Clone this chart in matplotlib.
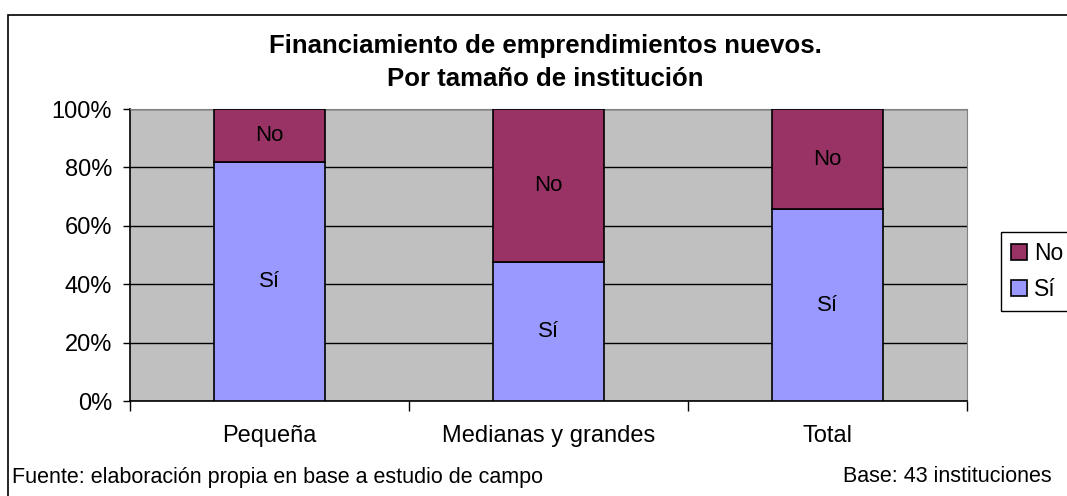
import numpy as np
import matplotlib
matplotlib.use('Agg')
import matplotlib.pyplot as plt
from matplotlib.patches import Rectangle

# datos (porcentajes)
categorias = ['Pequeña', 'Medianas y grandes', 'Total']
si = [81.8, 47.6, 65.7]
no = [100 - v for v in si]
yticks = [0, 20, 40, 60, 80, 100]

plt.rcParams['font.family'] = ['Liberation Sans', 'DejaVu Sans']

fig = plt.figure(figsize=(10.67, 4.96), dpi=100)
ax = fig.add_axes([130 / 1067, 1 - 401 / 496, (967 - 130) / 1067, (401 - 109) / 496])

x = np.arange(len(categorias))
ancho = 0.4
b_si = ax.bar(x, si, ancho, color='#9999FF', edgecolor='black', linewidth=1.2, label='Sí', zorder=3)
b_no = ax.bar(x, no, ancho, bottom=si, color='#993366', edgecolor='black', linewidth=1.2, label='No', zorder=3)

# etiquetas dentro de las barras
for i in range(len(categorias)):
    ax.text(x[i], si[i] / 2, 'Sí', ha='center', va='center', fontsize=16, zorder=4)
    ax.text(x[i], si[i] + no[i] / 2, 'No', ha='center', va='center', fontsize=16, zorder=4)

ax.set_xlim(-0.5, len(categorias) - 0.5)
ax.set_ylim(0, 100)
ax.set_facecolor('#C0C0C0')
ax.set_yticks(yticks)
ax.set_yticklabels([f'{v}%' for v in yticks], fontsize=17)
ax.yaxis.grid(True, color='black', linewidth=1, zorder=1)
ax.set_axisbelow(True)

# ticks del eje x en los límites de categoría, etiquetas centradas
ax.set_xticks(np.arange(len(categorias) + 1) - 0.5)
ax.set_xticklabels([])
ax.set_xticks(x, minor=True)
ax.set_xticklabels(categorias, minor=True, fontsize=17)
ax.tick_params(axis='x', which='major', length=7, width=1, direction='out')
ax.tick_params(axis='x', which='minor', length=0, pad=17)
ax.tick_params(axis='y', length=5, width=1, direction='out', pad=8)

for s in ['top', 'right']:
    ax.spines[s].set_color('#808080')
for s in ['left', 'bottom']:
    ax.spines[s].set_color('black')
    ax.spines[s].set_linewidth(1.2)

fig.text(545 / 1067, 1 - 46 / 496, 'Financiamiento de emprendimientos nuevos.',
         ha='center', va='center', fontsize=18.5, fontweight='bold')
fig.text(545 / 1067, 1 - 79 / 496, 'Por tamaño de institución',
         ha='center', va='center', fontsize=18.5, fontweight='bold')

fig.text(12 / 1067, 1 - 477 / 496, 'Fuente: elaboración propia en base a estudio de campo',
         ha='left', va='center', fontsize=15.5)
fig.text(1052 / 1067, 1 - 477 / 496, 'Base: 43 instituciones',
         ha='right', va='center', fontsize=15.5)

leg = fig.legend(handles=[b_no, b_si], labels=['No', 'Sí'], loc='upper left',
                 bbox_to_anchor=(1001 / 1067, 1 - 232 / 496), fontsize=16.5,
                 fancybox=False, edgecolor='black', framealpha=1,
                 handlelength=0.7, handleheight=0.7, handletextpad=0.3,
                 borderpad=0.45, labelspacing=0.55, borderaxespad=0)
leg.get_frame().set_linewidth(1)

# marco exterior del gráfico
fig.add_artist(Rectangle((8 / 1067, -0.1), 1.2, 1.1 - 15 / 496, transform=fig.transFigure,
                         fill=False, edgecolor='black', linewidth=1.2, clip_on=False))

fig.savefig('out.png', dpi=100)
